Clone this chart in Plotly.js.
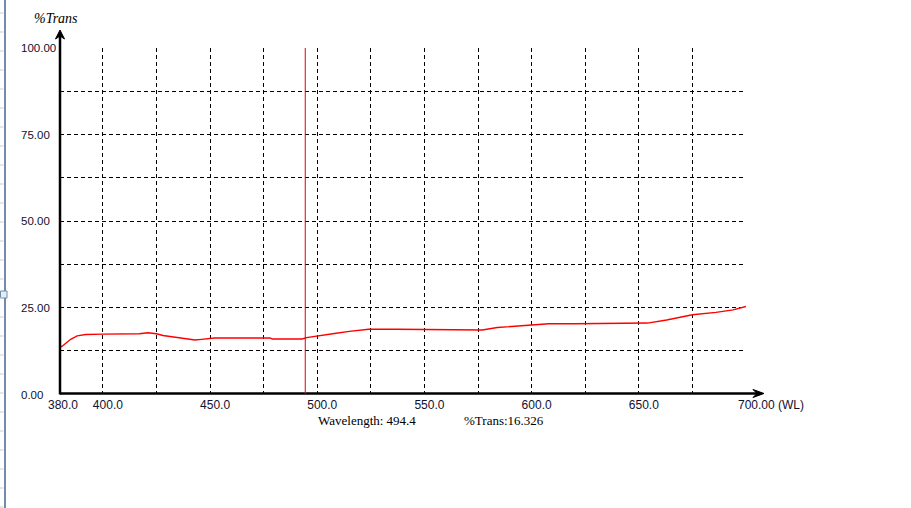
<!DOCTYPE html>
<html>
<head>
<meta charset="utf-8">
<script src="https://cdn.plot.ly/plotly-3.0.1.min.js"></script>
<style>
  html, body { margin: 0; padding: 0; background: #ffffff; }
  #chart { width: 911px; height: 508px; }
</style>
</head>
<body>
<div id="chart"></div>
<script>
// ---- data ----
const wavelength = [380, 381, 383, 385, 388, 392, 400, 410, 417, 421, 425, 428, 432, 436, 440, 443, 446, 452, 465, 478, 479, 493, 495, 497, 500, 508, 515, 524, 537, 550, 551, 566, 567, 577, 584, 592, 600, 608, 620, 635, 650, 654, 663, 671, 675, 686, 694, 700];
const transmittance = [13.5, 13.8, 14.8, 15.8, 16.8, 17.2, 17.3, 17.3, 17.4, 17.7, 17.4, 16.9, 16.5, 16.1, 15.8, 15.6, 15.8, 16.2, 16.2, 16.2, 15.9, 15.9, 16.3, 16.5, 16.9, 17.5, 18.1, 18.7, 18.7, 18.7, 18.5, 18.5, 18.5, 18.5, 19.2, 19.6, 20.0, 20.3, 20.3, 20.3, 20.3, 20.5, 21.4, 22.5, 22.9, 23.6, 24.3, 25.3];
const xGridVals = [400, 425, 450, 475, 500, 525, 550, 575, 600, 625, 650, 675];
const xLabelVals = [400, 450, 500, 550, 600, 650];
const xLabelText = ["400.0", "450.0", "500.0", "550.0", "600.0", "650.0"];
const yGridVals = [12.5, 25, 37.5, 50, 62.5, 75, 87.5];
const yLabelVals = [0, 25, 50, 75, 100];
const yLabelText = ["0.00", "25.00", "50.00", "75.00", "100.00"];
const xRange = [380, 700];
const yRange = [0, 100];
const xStartLabel = "380.0";
const xEndLabel = "700.00 (WL)";
const yTitle = "%Trans";
const cursorWL = 494.4;
const cursorT = 16.326;

// ---- layout geometry ----
const M = {l: 60, r: 165, t: 48, b: 114};
const W = 911 - M.l - M.r, H = 508 - M.t - M.b;
const px = x => (x - M.l) / W;
const py = y => (M.t + H - y) / H;

const ticktext = xGridVals.map(v => {
  const i = xLabelVals.indexOf(v);
  return i >= 0 ? xLabelText[i] : "";
});

const labelFont = {family: "Liberation Sans, Arial, sans-serif", size: 12, color: "#101030"};
const yLabelFont = {family: "Liberation Sans, Arial, sans-serif", size: 11.5, color: "#101030"};
const serifFont = {family: "Liberation Serif, Times New Roman, serif", size: 13, color: "#000000"};

const annotations = [];
yLabelVals.forEach((v, i) => {
  annotations.push({xref: "paper", yref: "y", x: px(19), y: v, text: yLabelText[i],
    xanchor: "left", yanchor: "middle", showarrow: false, font: yLabelFont, yshift: v === 0 ? -1 : 0});
});
annotations.push({xref: "x", yref: "paper", x: xRange[0], y: py(405), text: xStartLabel,
  xanchor: "center", yanchor: "middle", showarrow: false, font: labelFont, xshift: 3});
annotations.push({xref: "paper", yref: "paper", x: px(736), y: py(405), text: xEndLabel,
  xanchor: "left", yanchor: "middle", showarrow: false, font: labelFont});
annotations.push({xref: "paper", yref: "paper", x: px(55.5), y: py(18), text: yTitle,
  xanchor: "center", yanchor: "middle", showarrow: false,
  font: {family: "Liberation Serif, Times New Roman, serif", size: 14, color: "#000000", style: "italic"}});
annotations.push({xref: "paper", yref: "paper", x: px(316), y: py(420), text: "Wavelength: " + cursorWL.toFixed(1),
  xanchor: "left", yanchor: "middle", showarrow: false, font: serifFont});
annotations.push({xref: "paper", yref: "paper", x: px(462), y: py(420), text: "%Trans:" + cursorT.toFixed(3),
  xanchor: "left", yanchor: "middle", showarrow: false, font: serifFont});

const P = (x, y) => px(x).toFixed(5) + "," + py(y).toFixed(5);
const shapes = [
  // window decoration on the left edge
  {type: "line", xref: "paper", yref: "paper", x0: px(5), x1: px(5), y0: py(0), y1: py(508),
   line: {color: "#6f8cab", width: 2}, layer: "above"},
  {type: "rect", xref: "paper", yref: "paper", x0: px(0.5), x1: px(7), y0: py(291), y1: py(298),
   fillcolor: "#e3edf6", line: {color: "#6f8cab", width: 1}, layer: "above"},
  // axes with arrows
  {type: "line", xref: "paper", yref: "paper", x0: px(60), x1: px(761), y0: py(393.5), y1: py(393.5),
   line: {color: "#000000", width: 2.5}, layer: "above"},
  {type: "line", xref: "paper", yref: "paper", x0: px(60), x1: px(60), y0: py(394.5), y1: py(33),
   line: {color: "#000000", width: 2.5}, layer: "above"},
  {type: "path", xref: "paper", yref: "paper",
   path: "M" + P(60, 30) + " L" + P(55.5, 39) + " L" + P(60, 36) + " L" + P(64.5, 39) + " Z",
   fillcolor: "#000000", line: {color: "#000000", width: 1}, layer: "above"},
  {type: "path", xref: "paper", yref: "paper",
   path: "M" + P(764, 393.5) + " L" + P(753, 389.5) + " L" + P(757, 393.5) + " L" + P(753, 397.5) + " Z",
   fillcolor: "#000000", line: {color: "#000000", width: 1}, layer: "above"},
  // cursor line
  {type: "line", xref: "x", yref: "paper", x0: cursorWL, x1: cursorWL, y0: 0, y1: 1,
   line: {color: "#e00000", width: 1}, layer: "above"}
];
// faint ruler ticks on far-left edge
for (let y = 13; y < 508; y += 19) {
  shapes.push({type: "line", xref: "paper", yref: "paper", x0: px(0), x1: px(3.5), y0: py(y), y1: py(y),
    line: {color: "#c4ccd6", width: 1}, layer: "above"});
}

const trace = {
  x: wavelength, y: transmittance, type: "scatter", mode: "lines",
  line: {color: "#ff0000", width: 1.4}, hoverinfo: "skip", showlegend: false
};

const layout = {
  width: 911, height: 508,
  margin: M,
  paper_bgcolor: "#ffffff", plot_bgcolor: "#ffffff",
  showlegend: false,
  xaxis: {
    range: xRange, tickmode: "array", tickvals: xGridVals, ticktext: ticktext,
    showgrid: true, gridcolor: "#000000", gridwidth: 1, griddash: "4px,3px",
    zeroline: false, showline: false, ticks: "", ticklabelshift: 5, ticklabelstandoff: 2,
    tickfont: labelFont, fixedrange: true
  },
  yaxis: {
    range: yRange, tickmode: "array", tickvals: yGridVals, showticklabels: false,
    showgrid: true, gridcolor: "#000000", gridwidth: 1, griddash: "4px,3px",
    zeroline: false, showline: false, ticks: "", fixedrange: true
  },
  shapes: shapes,
  annotations: annotations
};

Plotly.newPlot("chart", [trace], layout, {displayModeBar: false, staticPlot: true});
</script>
</body>
</html>
